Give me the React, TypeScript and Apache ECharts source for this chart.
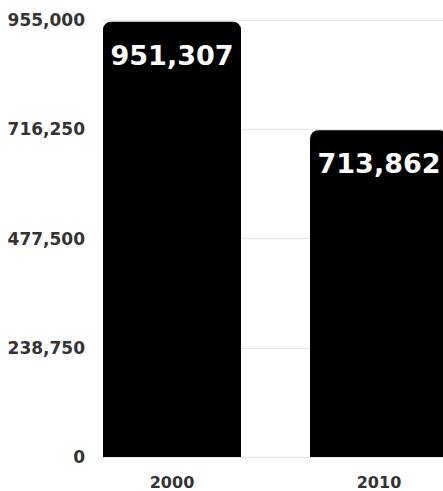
import React, { useEffect, useRef } from "react";
import * as echarts from "echarts";

const categories = ["2000", "2010"];
const values = [951307, 713862];
const yTicks = [0, 238750, 477500, 716250, 955000];

const FONT = "'DejaVu Sans', Verdana, sans-serif";

export default function App() {
  const ref = useRef<HTMLDivElement>(null);
  useEffect(() => {
    if (!ref.current) return;
    const chart = echarts.init(ref.current, undefined, { renderer: "svg" });
    const fmt = (v: number) => Math.round(v).toLocaleString("en-US");
    chart.setOption({
      animation: false,
      grid: { left: 103, right: -5, top: 20, bottom: 34, containLabel: false, outerBoundsMode: "none" },
      xAxis: {
        type: "value",
        min: -1 / 3,
        max: categories.length - 1 + 1 / 3,
        axisLine: { show: false },
        axisTick: { show: false },
        splitLine: { show: false },
        axisLabel: {
          customValues: categories.map((_, i) => i),
          formatter: (v: number) => categories[Math.round(v)] ?? "",
          color: "#333",
          fontFamily: FONT,
          fontWeight: "bold",
          fontSize: 16,
          lineHeight: 16,
          margin: 17,
        },
      },
      yAxis: {
        type: "value",
        min: yTicks[0],
        max: yTicks[yTicks.length - 1],
        interval: yTicks[1] - yTicks[0],
        axisLine: { show: false },
        axisTick: { show: false },
        splitLine: { show: true, lineStyle: { color: "#e6e6e6", width: 1 } },
        axisLabel: {
          formatter: (v: number) => fmt(v),
          color: "#333",
          fontFamily: FONT,
          fontWeight: "bold",
          fontSize: 17,
          lineHeight: 17,
          margin: 18,
          padding: [6, 0, 0, 0],
        },
      },
      series: [
        {
          type: "bar",
          data: values.map((v, i) => [i, v]),
          barWidth: 138,
          itemStyle: { color: "#000", borderRadius: [8, 8, 0, 0] },
          label: {
            show: true,
            position: "insideTop",
            distance: 20,
            formatter: (p: any) => fmt(p.value[1]),
            color: "#fff",
            fontFamily: FONT,
            fontWeight: "bold",
            fontSize: 27,
          },
        },
      ],
    });
    return () => chart.dispose();
  }, []);
  return (
    <div
      ref={ref}
      style={{ position: "fixed", left: 0, top: 0, width: 443, height: 491, background: "#fff" }}
    />
  );
}
